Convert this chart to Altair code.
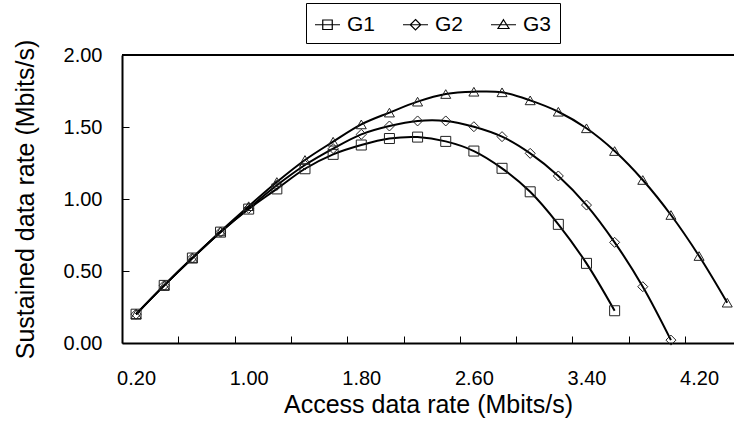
import altair as alt
import pandas as pd

# ---- data ----
x_vals = [0.2, 0.4, 0.6, 0.8, 1.0, 1.2, 1.4, 1.6, 1.8, 2.0, 2.2,
          2.4, 2.6, 2.8, 3.0, 3.2, 3.4, 3.6, 3.8, 4.0, 4.2, 4.4]
g1 = [0.20, 0.40, 0.59, 0.77, 0.93, 1.07, 1.21, 1.31, 1.375, 1.42, 1.43,
      1.40, 1.333, 1.213, 1.05, 0.824, 0.553, 0.224]
g2 = [0.20, 0.40, 0.59, 0.77, 0.935, 1.095, 1.236, 1.35, 1.449, 1.507, 1.542,
      1.542, 1.502, 1.433, 1.317, 1.16, 0.958, 0.699, 0.391, 0.02]
g3 = [0.20, 0.40, 0.59, 0.775, 0.95, 1.118, 1.271, 1.398, 1.518, 1.60, 1.676,
      1.729, 1.745, 1.741, 1.685, 1.606, 1.491, 1.333, 1.132, 0.889, 0.604, 0.28]
series_names = ["G1", "G2", "G3"]

x_label_values = [0.2, 1.0, 1.8, 2.6, 3.4, 4.2]
x_tick_values = [0.5, 0.9, 1.3, 1.7, 2.1, 2.5, 2.9, 3.3, 3.7, 4.1]
y_tick_values = [0.0, 0.5, 1.0, 1.5, 2.0]
frame_top = [2.0]

rows = []
for name, ys in zip(series_names, [g1, g2, g3]):
    for xv, yv in zip(x_vals, ys):
        rows.append({"series": name, "x": xv, "y": yv})
df = pd.DataFrame(rows)

FONT = "Liberation Sans"
label_list = ",".join(str(v) for v in x_label_values)
is_label = f"indexof([{label_list}], datum.value) >= 0"

xscale = alt.Scale(domain=[0.1, 4.448], nice=False, zero=False)
yscale = alt.Scale(domain=[0, 2], nice=False, zero=False)

xaxis = alt.Axis(
    values=sorted(x_label_values + x_tick_values),
    labelExpr=f"{is_label} ? format(datum.value, '.2f') : ''",
    tickOpacity={"condition": {"test": is_label, "value": 0}, "value": 1},
    tickSize=alt.expr("-7"),
    labelPadding=32,
    labelFlush=False,
    labelOverlap=False,
    grid=False,
    title="Access data rate (Mbits/s)",
    titlePadding=4,
)
yaxis = alt.Axis(
    values=y_tick_values,
    format=".2f",
    tickSize=alt.expr("-7"),
    labelPadding=27,
    labelFlush=False,
    labelOverlap=False,
    grid=False,
    title="Sustained data rate (Mbits/s)",
    titlePadding=25,
)

base = alt.Chart(df)

lines = base.mark_line(interpolate="catmull-rom", color="black", strokeWidth=2).encode(
    x=alt.X("x:Q", scale=xscale, axis=xaxis),
    y=alt.Y("y:Q", scale=yscale, axis=yaxis),
    detail="series:N",
)

points = base.mark_point(filled=False, color="#222222", strokeWidth=1, size=100, opacity=1).encode(
    x="x:Q",
    y="y:Q",
    shape=alt.Shape(
        "series:N",
        scale=alt.Scale(domain=series_names, range=["square", "diamond", "triangle-up"]),
        legend=None,
    ),
)

legend_paths = [
    "M-1,0H1M-0.38,-0.38H0.38V0.38H-0.38Z",
    "M-1,0H1M0,-0.42L0.42,0L0,0.42L-0.42,0Z",
    "M-1,0H1M0,-0.4L0.44,0.3L-0.44,0.3Z",
]

legend_layer = base.mark_point(filled=False, color="black", strokeWidth=1.2, opacity=0).encode(
    x="x:Q",
    y="y:Q",
    shape=alt.Shape(
        "series:N",
        scale=alt.Scale(domain=series_names, range=legend_paths),
        legend=alt.Legend(
            title=None,
            orient="none",
            legendX=184,
            legendY=-52,
            direction="horizontal",
            strokeColor="black",
            padding=8,
            symbolSize=625,
            symbolStrokeWidth=1.2,
            symbolOpacity=1,
            symbolStrokeColor="black",
            symbolFillColor="transparent",
            labelFont=FONT,
            labelFontSize=21,
            labelColor="black",
            labelOffset=6,
            columnPadding=24,
        ),
    ),
)

top_rule = alt.Chart(pd.DataFrame({"y": frame_top})).mark_rule(color="black", strokeWidth=2).encode(
    y=alt.Y("y:Q", scale=yscale)
)

chart = (
    alt.layer(lines, points, legend_layer, top_rule)
    .resolve_scale(shape="independent")
    .properties(
        width=612,
        height=288,
        autosize=alt.AutoSizeParams(type="none"),
        padding={"left": 122, "top": 55, "right": 0, "bottom": 86},
        background="white",
    )
    .configure_view(stroke=None)
    .configure_axis(
        domainColor="black",
        domainWidth=2,
        tickColor="black",
        tickWidth=1,
        labelFont=FONT,
        labelFontSize=20,
        labelColor="black",
        titleFont=FONT,
        titleFontSize=25,
        titleFontWeight="normal",
        titleColor="black",
    )
)

chart.save("out.html", embed_options={"renderer": "svg", "actions": False})
